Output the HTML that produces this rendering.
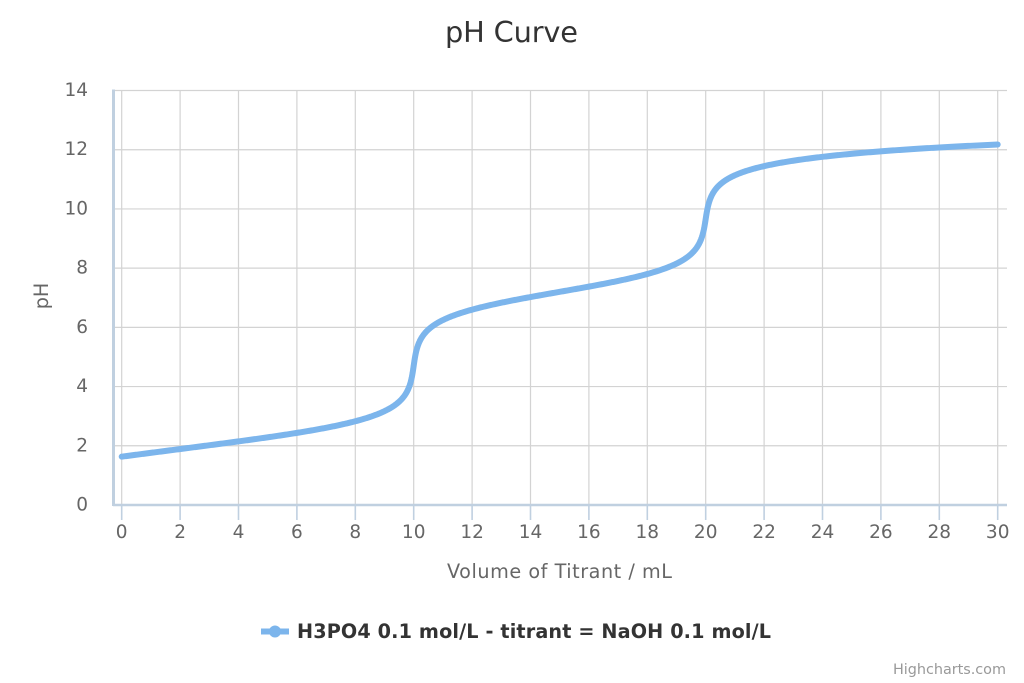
<!DOCTYPE html>
<html>
<head>
<meta charset="utf-8">
<style>
html,body{margin:0;padding:0;background:#fff;}
svg{display:block;}
text{font-family:"DejaVu Sans","Liberation Sans",sans-serif;}
</style>
</head>
<body>
<svg id="chart" width="1024" height="683" viewBox="0 0 1024 683" xmlns="http://www.w3.org/2000/svg">
<rect x="0" y="0" width="1024" height="683" fill="#ffffff"/>
<g id="grid" stroke="#d3d3d3" stroke-width="1.2" fill="none"></g>
<g id="axes"></g>
<g id="labels" fill="#666666" font-size="18.5"></g>
<path id="series" d="" fill="none" stroke="#7cb5ec" stroke-width="6" stroke-linecap="round" stroke-linejoin="round"/>
<text x="511.5" y="42" text-anchor="middle" font-size="28.8" fill="#333333" textLength="133">pH Curve</text>
<text x="559.5" y="578" text-anchor="middle" font-size="19.2" fill="#666666" textLength="225">Volume of Titrant / mL</text>
<text transform="translate(48,296) rotate(-90)" text-anchor="middle" font-size="19.2" fill="#666666">pH</text>
<line x1="261" y1="631.5" x2="289" y2="631.5" stroke="#7cb5ec" stroke-width="6"/>
<circle cx="275" cy="631.5" r="6" fill="#7cb5ec"/>
<text x="297" y="638" font-size="19.2" font-weight="bold" fill="#333333" textLength="474">H3PO4 0.1 mol/L - titrant = NaOH 0.1 mol/L</text>
<text x="1006" y="674" text-anchor="end" font-size="14.4" fill="#999999" textLength="113">Highcharts.com</text>
</svg>
<script>
(function(){
var NS="http://www.w3.org/2000/svg";
var X0=121.7, XS=29.2, Y0=505, YS=29.607;
var L=113, R=1007, T=90.5;
function px(v){return X0+v*XS;}
function py(p){return Y0-p*YS;}
function el(n,a,parent,txt){var e=document.createElementNS(NS,n);for(var k in a)e.setAttribute(k,a[k]);if(txt!==undefined)e.textContent=txt;parent.appendChild(e);return e;}
var grid=document.getElementById('grid'),axes=document.getElementById('axes'),labels=document.getElementById('labels');
for(var p=2;p<=14;p+=2){var y=py(p);el('line',{x1:L,y1:y,x2:R,y2:y},grid);}
for(var v=0;v<=30;v+=2){var x=px(v);el('line',{x1:x,y1:T,x2:x,y2:Y0},grid);}
el('line',{x1:L+0.5,y1:T-1,x2:L+0.5,y2:Y0+1,stroke:'#c0d0e0','stroke-width':3},axes);
el('line',{x1:L,y1:Y0,x2:R,y2:Y0,stroke:'#c0d0e0','stroke-width':2.5},axes);
for(var v=0;v<=30;v+=2){var x=px(v);el('line',{x1:x,y1:Y0,x2:x,y2:Y0+15,stroke:'#c0d0e0','stroke-width':1.6},axes);}
for(var v=0;v<=30;v+=2){el('text',{x:px(v),y:538,'text-anchor':'middle'},labels,String(v));}
for(var p=0;p<=14;p+=2){el('text',{x:88,y:py(p)+5.5,'text-anchor':'end'},labels,String(p));}
var Ka1=Math.pow(10,-2.15),Ka2=Math.pow(10,-7.2),Ka3=Math.pow(10,-12.35),Kw=1e-14;
var C0=0.1,Cb=0.1,V0=10;
function vol(pH){var h=Math.pow(10,-pH);var D=h*h*h+Ka1*h*h+Ka1*Ka2*h+Ka1*Ka2*Ka3;
var nb=(Ka1*h*h+2*Ka1*Ka2*h+3*Ka1*Ka2*Ka3)/D;var oh=Kw/h;
return V0*(C0*nb-(h-oh))/(Cb+h-oh);}
var pts=[],prev=null;
for(var pH=1.0;pH<=13;pH+=0.004){
 var V=vol(pH);
 if(prev){
  if(prev.V<0&&V>=0){var f=(0-prev.V)/(V-prev.V);pts.push([0,prev.p+f*(pH-prev.p)]);}
  if(V>=0&&V<=30)pts.push([V,pH]);
  if(prev.V<=30&&V>30){var f2=(30-prev.V)/(V-prev.V);pts.push([30,prev.p+f2*(pH-prev.p)]);break;}
 }
 prev={V:V,p:pH};
}
var d='';
for(var i=0;i<pts.length;i++){d+=(i?'L':'M')+px(pts[i][0]).toFixed(2)+' '+py(pts[i][1]).toFixed(2);}
document.getElementById('series').setAttribute('d',d);
})();
</script>
</body>
</html>
